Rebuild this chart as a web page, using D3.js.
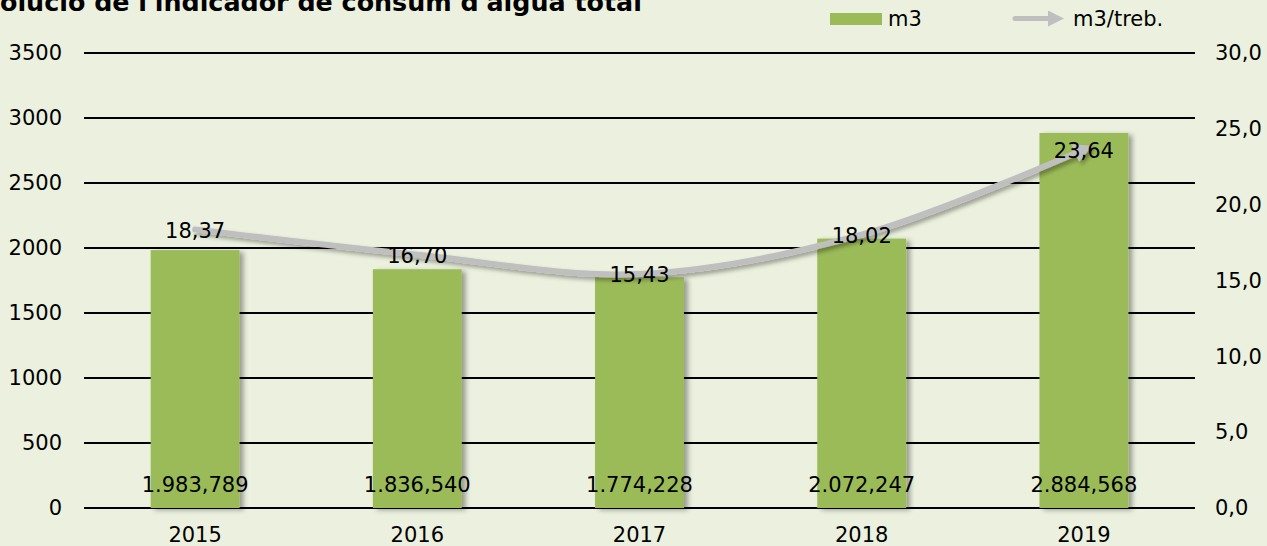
<!DOCTYPE html>
<html>
    <head>
        <meta charset="utf-8">
        <script src="https://d3js.org/d3.v7.min.js"></script>
        <style>
            body { margin: 0; background-color: #ebf1de; }
            svg { display: block; }
            text { font-family: "DejaVu Sans", Verdana, sans-serif; fill: #000; }
        </style>
    </head>
    <body>
        <svg id="chart" width="1267" height="546"></svg>

        <script>
            // Data
            var years = ["2015", "2016", "2017", "2018", "2019"];
            var m3 = [1983.789, 1836.540, 1774.228, 2072.247, 2884.568];
            var m3PerWorker = [18.37, 16.70, 15.43, 18.02, 23.64];
            var leftTicks = [0, 500, 1000, 1500, 2000, 2500, 3000, 3500];
            var rightTicks = [0, 5, 10, 15, 20, 25, 30];
            var seriesNames = ["m3", "m3/treb."];
            var title = "Evolució de l'indicador de consum d'aigua total";

            var ca = d3.formatLocale({decimal: ",", thousands: ".", grouping: [3], currency: ["", " €"]});
            var fmtBar = ca.format(",.3f");
            var fmtLine = ca.format(",.2f");
            var fmtRight = ca.format(",.1f");

            var svg = d3.select("#chart");
            var fs = "21px";

            // dimensions
            var dims = { left: 84, right: 1195, top: 53, bottom: 508 };

            var defs = svg.append("defs");
            defs.append("filter")
                .attr("id", "barShadow")
                .attr("x", "-10%").attr("y", "-10%")
                .attr("width", "130%").attr("height", "120%")
                .append("feDropShadow")
                .attr("dx", 4).attr("dy", 2)
                .attr("stdDeviation", 2.5)
                .attr("flood-color", "#000")
                .attr("flood-opacity", 0.35);
            defs.append("filter")
                .attr("id", "lineShadow")
                .attr("x", "-10%").attr("y", "-30%")
                .attr("width", "120%").attr("height", "160%")
                .append("feDropShadow")
                .attr("dx", 3).attr("dy", 3)
                .attr("stdDeviation", 2)
                .attr("flood-color", "#000")
                .attr("flood-opacity", 0.35);
            defs.append("marker")
                .attr("id", "arrow")
                .attr("viewBox", "0 0 10 10")
                .attr("refX", 5).attr("refY", 5)
                .attr("markerWidth", 3.2).attr("markerHeight", 3.2)
                .attr("markerUnits", "strokeWidth")
                .attr("orient", "auto")
                .append("path")
                .attr("d", "M0,0 L10,5 L0,10 z")
                .attr("fill", "#bfbfbf");

            // Scales
            var x = d3.scaleBand()
                .domain(years)
                .range([dims.left, dims.right])
                .paddingInner(0.6)
                .paddingOuter(0.3);

            var yLeft = d3.scaleLinear()
                .domain([0, 3500])
                .range([dims.bottom, dims.top]);

            var yRight = d3.scaleLinear()
                .domain([0, 30])
                .range([dims.bottom, dims.top]);

            // title: "Ev" sits past the left page edge, the rest ends near x=642
            var probe = svg.append("text")
                .style("font-size", "25px")
                .style("font-weight", "bold");
            var fullW = probe.text(title).node().getComputedTextLength();
            var restW = probe.text(title.slice(2)).node().getComputedTextLength();
            probe.remove();
            var titleSize = 25 * 642 / restW;

            svg.append("text")
                .attr("x", -(fullW - restW) * titleSize / 25)
                .attr("y", 11)
                .style("font-size", titleSize + "px")
                .style("font-weight", "bold")
                .text(title);

            // grid lines
            svg.append("g")
                .selectAll("line")
                .data(leftTicks)
                .enter().append("line")
                .attr("x1", dims.left)
                .attr("x2", dims.right)
                .attr("y1", function (d) { return yLeft(d); })
                .attr("y2", function (d) { return yLeft(d); })
                .attr("stroke", "#000")
                .attr("stroke-width", 2);

            // left axis
            var leftAxis = svg.append("g")
                .attr("transform", "translate(" + (dims.left - 22) + ",0)")
                .call(d3.axisLeft(yLeft).tickValues(leftTicks).tickSize(0).tickPadding(0).tickFormat(d3.format("d")));
            leftAxis.select(".domain").remove();
            leftAxis.selectAll("text").style("font-size", fs).attr("font-family", null);

            // right axis
            var rightAxis = svg.append("g")
                .attr("transform", "translate(" + (dims.right + 20) + ",0)")
                .call(d3.axisRight(yRight).tickValues(rightTicks).tickSize(0).tickPadding(0).tickFormat(fmtRight));
            rightAxis.select(".domain").remove();
            rightAxis.selectAll("text").style("font-size", fs).attr("font-family", null);

            // bottom axis
            var bottomAxis = svg.append("g")
                .attr("transform", "translate(0," + dims.bottom + ")")
                .call(d3.axisBottom(x).tickSize(0).tickPadding(19));
            bottomAxis.select(".domain").remove();
            bottomAxis.selectAll("text").style("font-size", fs).attr("font-family", null);

            // bars
            svg.append("g")
                .selectAll("rect")
                .data(m3)
                .enter().append("rect")
                .attr("x", function (d, i) { return x(years[i]); })
                .attr("y", function (d) { return yLeft(d); })
                .attr("width", x.bandwidth())
                .attr("height", function (d) { return yLeft(0) - yLeft(d); })
                .attr("fill", "#9bbb59")
                .attr("filter", "url(#barShadow)");

            // bar labels
            svg.append("g")
                .selectAll("text")
                .data(m3)
                .enter().append("text")
                .attr("x", function (d, i) { return x(years[i]) + x.bandwidth() / 2; })
                .attr("y", yLeft(0) - 23)
                .attr("dy", "0.35em")
                .attr("text-anchor", "middle")
                .style("font-size", fs)
                .text(function (d) { return fmtBar(d); });

            // line
            var line = d3.line()
                .x(function (d, i) { return x(years[i]) + x.bandwidth() / 2; })
                .y(function (d) { return yRight(d); })
                .curve(d3.curveCatmullRom.alpha(0.5));

            svg.append("path")
                .datum(m3PerWorker)
                .attr("d", line)
                .attr("fill", "none")
                .attr("stroke", "#bfbfbf")
                .attr("stroke-width", 6)
                .attr("stroke-linecap", "round")
                .attr("marker-end", "url(#arrow)")
                .attr("filter", "url(#lineShadow)");

            // line labels
            svg.append("g")
                .selectAll("text")
                .data(m3PerWorker)
                .enter().append("text")
                .attr("x", function (d, i) { return x(years[i]) + x.bandwidth() / 2; })
                .attr("y", function (d) { return yRight(d) + 1; })
                .attr("dy", "0.35em")
                .attr("text-anchor", "middle")
                .style("font-size", fs)
                .text(function (d) { return fmtLine(d); });

            // legend
            var legend = svg.append("g");
            legend.append("rect")
                .attr("x", 830).attr("y", 13)
                .attr("width", 52).attr("height", 12)
                .attr("fill", "#9bbb59");
            legend.append("text")
                .attr("x", 888).attr("y", 19)
                .attr("dy", "0.35em")
                .style("font-size", fs)
                .text(seriesNames[0]);
            legend.append("line")
                .attr("x1", 1015).attr("x2", 1056)
                .attr("y1", 18.5).attr("y2", 18.5)
                .attr("stroke", "#bfbfbf")
                .attr("stroke-width", 5)
                .attr("stroke-linecap", "round")
                .attr("marker-end", "url(#arrow)");
            legend.append("text")
                .attr("x", 1073).attr("y", 19)
                .attr("dy", "0.35em")
                .style("font-size", fs)
                .text(seriesNames[1]);
        </script>
    </body>
</html>
